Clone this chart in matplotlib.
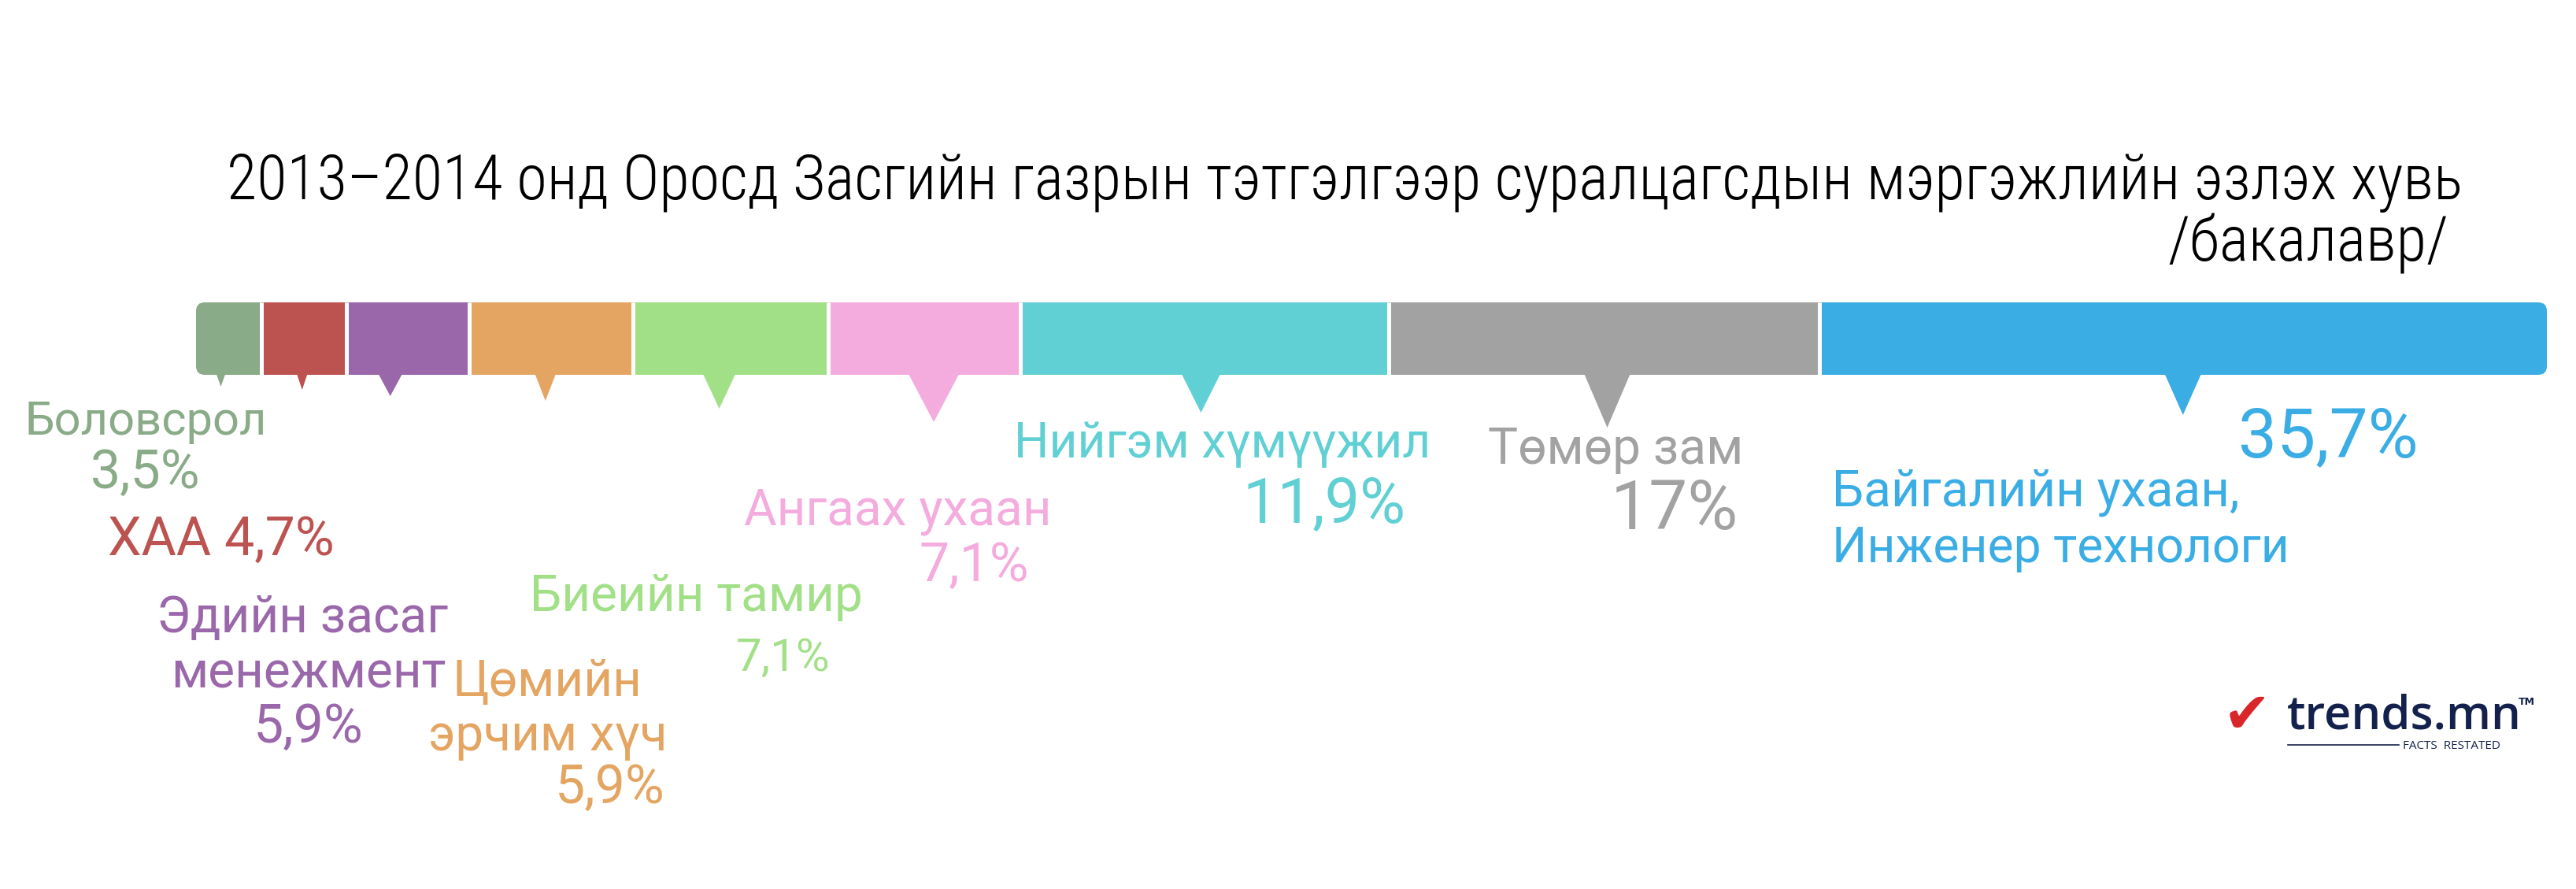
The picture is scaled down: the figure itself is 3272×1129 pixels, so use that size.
import matplotlib
matplotlib.use('Agg')
import matplotlib.pyplot as plt
from matplotlib import font_manager as fm
from matplotlib.patches import FancyBboxPatch
import numpy as np

# data
fields = ['Боловсрол', 'ХАА', 'Эдийн засаг менежмент', 'Цөмийн эрчим хүч',
          'Биеийн тамир', 'Ангаах ухаан', 'Нийгэм хүмүүжил', 'Төмөр зам',
          'Байгалийн ухаан, Инженер технологи']
share = [3.5, 4.7, 5.9, 5.9, 7.1, 7.1, 11.9, 17, 35.7]
share_txt = ['3,5%', '4,7%', '5,9%', '5,9%', '7,1%', '7,1%', '11,9%', '17%', '35,7%']
# segment lengths as drawn in the infographic (percent of the whole bar)
bar_len = [2.78, 3.60, 5.24, 6.95, 8.31, 8.20, 15.67, 18.29, 30.96]

colors = ['#8aab88', '#bd5351', '#9a67ab', '#e5a562', '#a2e088',
          '#f4abdd', '#60d0d4', '#a2a2a2', '#3badE5']

W, H = 3273, 1129


def pick(names):
    for n in names:
        try:
            fm.findfont(fm.FontProperties(family=n), fallback_to_default=False)
            return n
        except ValueError:
            pass
    return 'DejaVu Sans'


lab_font = pick(['Roboto', 'DejaVu Sans'])
ttl_font = pick(['Liberation Sans Narrow', 'Roboto Condensed', 'DejaVu Sans Condensed', 'Liberation Sans'])

fig = plt.figure(figsize=(W / 100, H / 100), dpi=100)
fig.patch.set_facecolor('white')


def px(x, y):
    return x / W, 1 - y / H


# the stacked bar
x0, x1, y0, y1 = 249, 3235, 384, 476
ax = fig.add_axes([x0 / W, 1 - y1 / H, (x1 - x0) / W, (y1 - y0) / H])
ax.set_xlim(0, sum(bar_len))
ax.set_ylim(0, 1)
ax.axis('off')

starts = np.concatenate([[0], np.cumsum(bar_len)[:-1]])
bars = ax.barh(0.5, bar_len, left=starts, height=1, color=colors, linewidth=0)

r = 11
clip = FancyBboxPatch((0, 0), 1, 1, boxstyle='round,pad=0,rounding_size=%f' % (r / (x1 - x0)),
                      mutation_aspect=(x1 - x0) / (y1 - y0), transform=ax.transAxes)
for b in bars:
    b.set_clip_path(clip)
ax.vlines(starts[1:], 0, 1, colors='white', linewidth=3.6)

# callout pointers (pixel styles)
tip_w = [12, 14, 31, 27, 42, 65, 50, 59, 47]
tip_len = [15, 19, 27, 33, 43, 60, 48, 67, 51]
tip_dx = [-10, -2, -22, -7, -14, 12, -5, 4, 0]
ux = (x1 - x0) / sum(bar_len)
uy = (y1 - y0)
for s, l, c, w, tl, dx in zip(starts, bar_len, colors, tip_w, tip_len, tip_dx):
    cx = s + l / 2 + dx / ux
    ax.fill([cx - w / 2 / ux, cx + w / 2 / ux, cx], [0.02, 0.02, -tl / uy],
            color=c, lw=0, clip_on=False)

# labels
def lab(t, x, y, size, color, ha='center'):
    fig.text(*px(x, y), t, fontsize=size, color=color, ha=ha, va='baseline',
             family=[lab_font, 'DejaVu Sans'])


lab('Боловсрол', 185, 552, 43, colors[0])
lab(share_txt[0], 185, 620, 49, colors[0])
lab('ХАА ' + share_txt[1], 281, 705, 49, colors[1])
lab('Эдийн засаг', 384, 803, 46, colors[2])
lab('менежмент', 392, 873, 46, colors[2])
lab(share_txt[2], 392, 943, 49, colors[2])
lab('Цөмийн', 695, 884, 46, colors[3])
lab('эрчим хүч', 696, 953, 46, colors[3])
lab(share_txt[3], 775, 1020, 49, colors[3])
lab('Биеийн тамир', 884, 776, 46, colors[4])
lab(share_txt[4], 995, 852, 42, colors[4])
lab('Ангаах ухаан', 1140, 666, 46, colors[5])
lab(share_txt[5], 1237, 738, 49, colors[5])
lab('Нийгэм хүмүүжил', 1553, 581, 45, colors[6])
lab(share_txt[6], 1682, 663, 57, colors[6])
lab('Төмөр зам', 2052, 589, 46, colors[7])
lab(share_txt[7], 2127, 672, 63, colors[7])
lab('Байгалийн ухаан,', 2327, 643, 46, colors[8], ha='left')
lab('Инженер технологи', 2327, 714, 45, colors[8], ha='left')
lab(share_txt[8], 2957, 580, 63, colors[8])

# title
t1 = fig.text(*px(288, 253), '2013–2014 онд Оросд Засгийн газрын тэтгэлгээр суралцагсдын мэргэжлийн эзлэх хувь',
              fontsize=60, color='black', ha='left', va='baseline', weight='light',
              family=[ttl_font, 'DejaVu Sans'])
t2 = fig.text(*px(3110, 332), '/бакалавр/', fontsize=60, color='black', ha='right', va='baseline',
              weight='light', family=[ttl_font, 'DejaVu Sans'])
fig.canvas.draw()
wid = t1.get_window_extent().width
if wid > 2840:
    k = 2840 / wid
    t1.set_fontsize(60 * k)
    t2.set_fontsize(60 * k)

# logo
navy = '#14214d'
fig.text(*px(2824, 930), '✔', fontsize=52, color='#d9262b', ha='left', va='baseline', family='DejaVu Sans')
fig.text(*px(2905, 926), 'trends.mn', fontsize=43, color=navy, ha='left', va='baseline',
         family=pick(['Open Sans', 'DejaVu Sans']), weight='semibold')
fig.text(*px(3199, 895), 'TM', fontsize=9, color=navy, ha='left', va='baseline', weight='bold')
fig.text(*px(3052, 951), 'FACTS  RESTATED', fontsize=11, color=navy, ha='left', va='baseline',
         family=pick(['Open Sans', 'DejaVu Sans']))
fig.add_artist(plt.Line2D([2906 / W, 3047 / W], [1 - 946 / H, 1 - 946 / H], color=navy, lw=1.2))

fig.savefig('out.png', dpi=100)
